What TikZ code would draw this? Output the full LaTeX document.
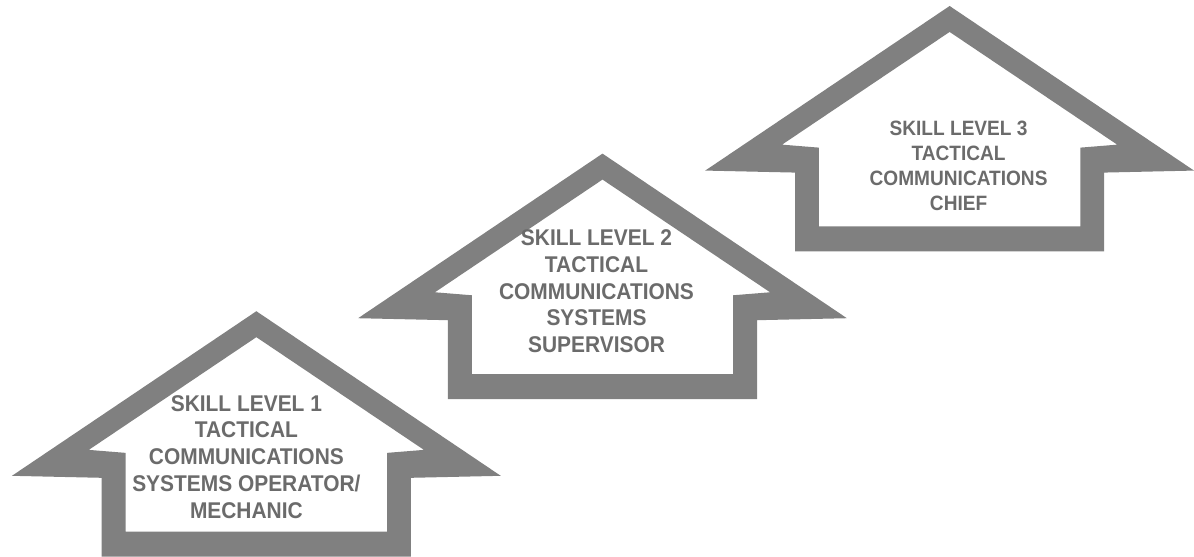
\documentclass[tikz,border=0pt]{standalone}
\usepackage{fontspec}
\newfontfamily\skillfont[FakeStretch=0.92]{Liberation Sans}
\definecolor{arrowgray}{gray}{0.5}
\definecolor{labelgray}{gray}{0.42}
% one hollow house-shaped arrow, apex at (#1,#2)
\def\skillarrow(#1,#2){\fill[arrowgray, even odd rule, shift={(#1,#2)}]
  (0,0) -- (245,165) -- (155,167) -- (155,246) -- (-155,246) -- (-155,167) -- (-245,165) -- cycle
  (0,26) -- (168,139) -- (131,142) -- (131,221) -- (-131,221) -- (-131,142) -- (-168,139) -- cycle;}
\tikzset{skilltext/.style={align=center, text=labelgray, font=\skillfont\bfseries\fontsize{11.4}{13.4}\selectfont}}

\begin{document}
\begin{tikzpicture}[x=0.5pt, y=-0.5pt]
			%%%%% START %%%%%
			
			\fill[white] (0, 0) rectangle (1194, 554);
			
			\skillarrow(257, 312)
			\skillarrow(604, 154)
			\skillarrow(952, 6)
			
			\node[skilltext] (level1) at (247, 458) {SKILL LEVEL 1\\TACTICAL\\COMMUNICATIONS\\SYSTEMS OPERATOR/\\MECHANIC};
			\node[skilltext] (level2) at (598, 292) {SKILL LEVEL 2\\TACTICAL\\COMMUNICATIONS\\SYSTEMS\\SUPERVISOR};
			\node[skilltext, font=\skillfont\bfseries\fontsize{10.4}{12.5}\selectfont] (level3) at (961, 166) {SKILL LEVEL 3\\TACTICAL\\COMMUNICATIONS\\CHIEF};
			
			%%%%% END %%%%%
\end{tikzpicture}
\end{document}
